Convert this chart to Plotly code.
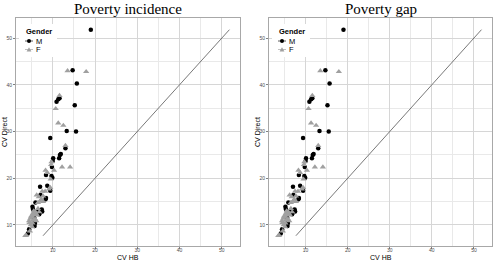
import plotly.graph_objects as go

# Data (CV HB vs CV Direct), same for both panels
m_x = [19.0, 14.7, 15.7, 11.6, 11.3, 10.9, 15.2, 13.3, 15.5, 9.4, 13.0, 11.9, 11.7, 11.5, 10.1,
       10.0, 9.8, 8.4, 9.7, 9.9, 8.7, 7.0, 9.4, 7.1, 8.4, 8.3, 5.9, 5.2, 5.3, 6.4, 7.2, 7.4,
       7.5, 6.8, 5.6, 5.8, 5.7, 4.4, 4.1]
m_y = [51.8, 43.1, 40.3, 37.1, 36.9, 36.4, 35.6, 30.1, 30.0, 28.6, 26.4, 25.2, 25.0, 24.3, 24.3,
       23.7, 22.4, 20.7, 20.5, 20.1, 18.4, 18.2, 17.3, 16.4, 15.8, 15.5, 14.8, 13.9, 13.4, 13.0,
       13.2, 13.3, 12.9, 12.3, 11.6, 10.4, 9.8, 9.1, 8.2]
f_x = [13.5, 17.9, 11.6, 10.7, 11.3, 12.5, 13.0, 9.7, 9.6, 12.2, 14.1, 10.3, 8.3, 8.7, 9.5, 9.4,
       9.1, 8.2, 7.5, 6.2, 7.7, 6.7, 7.3, 7.0, 6.5, 7.7, 5.5, 6.8, 5.3, 6.0, 6.3, 4.7, 4.9, 5.4,
       4.4, 6.1, 5.2, 5.1, 4.8, 4.6, 3.7, 3.5, 5.0, 5.6, 4.5, 5.8, 6.5, 5.9]
f_y = [43.0, 42.8, 37.7, 34.9, 31.8, 31.3, 27.0, 23.5, 22.9, 22.4, 22.4, 21.7, 21.7, 21.2, 19.8,
       18.0, 17.7, 17.2, 17.2, 16.4, 16.2, 16.0, 15.5, 15.1, 14.8, 15.0, 13.0, 12.8, 12.5, 12.5,
       12.1, 11.4, 11.8, 11.1, 10.9, 10.9, 10.4, 9.6, 10.0, 8.7, 7.8, 7.7, 12.0, 12.2, 10.5,
       11.3, 13.5, 12.8]
titles = ["Poverty incidence", "Poverty gap"]
x_label = "CV HB"
y_label = "CV Direct"
legend_title = "Gender"
groups = ["M", "F"]
tick_vals = [10, 20, 30, 40, 50]

lo = min(m_y + f_y)
hi = max(m_y + f_y)

W, H = 494, 260


def px(x):
    return x / W


def py(y):
    return 1 - y / H


fig = go.Figure()

doms = [(px(16), px(240)), (px(269), px(492))]
ydom = (py(246), py(18))

for i in range(2):
    xa = "x" if i == 0 else "x2"
    ya = "y" if i == 0 else "y2"
    fig.add_trace(go.Scatter(x=[lo, hi], y=[lo, hi], mode="lines",
                             line=dict(color="#555555", width=0.8),
                             xaxis=xa, yaxis=ya, showlegend=False, hoverinfo="skip"))
    fig.add_trace(go.Scatter(x=m_x, y=m_y, mode="markers", name="M",
                             marker=dict(symbol="circle", size=4.5, color="black"),
                             xaxis=xa, yaxis=ya, showlegend=False))
    fig.add_trace(go.Scatter(x=f_x, y=f_y, mode="markers", name="F",
                             marker=dict(symbol="triangle-up", size=5.5, color="#a0a0a0"),
                             xaxis=xa, yaxis=ya, showlegend=False))

axis_common = dict(
    showgrid=True, gridcolor="#d6d6d6", gridwidth=1,
    minor=dict(showgrid=True, gridcolor="#e9e9e9", gridwidth=0.8, dtick=5, ticks=""),
    tickvals=tick_vals, ticks="outside", ticklen=2, tickcolor="#808080",
    tickfont=dict(family="Liberation Sans", size=5, color="#4d4d4d"),
    showline=True, mirror=True, linecolor="#a8a8a8", linewidth=1,
    zeroline=False,
)
xextra = dict(ticklabelstandoff=-3)

fig.update_layout(
    width=W, height=H,
    margin=dict(l=0, r=0, t=0, b=0),
    paper_bgcolor="white", plot_bgcolor="white",
    showlegend=False,
    xaxis=dict(domain=doms[0], range=[1.3, 54.3], anchor="y", **axis_common, **xextra),
    yaxis=dict(domain=ydom, range=[5.5, 54.3], anchor="x", **axis_common),
    xaxis2=dict(domain=doms[1], range=[1.3, 54.3], anchor="y2", **axis_common, **xextra),
    yaxis2=dict(domain=ydom, range=[5.5, 54.3], anchor="x2", **axis_common),
)

for i, d in enumerate(doms):
    left = 16 if i == 0 else 269
    cx = (d[0] + d[1]) / 2
    fig.add_annotation(text=titles[i], x=cx, y=py(9), xref="paper", yref="paper",
                       showarrow=False, xanchor="center", yanchor="middle",
                       font=dict(family="Liberation Serif", size=15, color="black"))
    fig.add_annotation(text=x_label, x=cx, y=py(257.3), xref="paper", yref="paper",
                       showarrow=False, xanchor="center", yanchor="middle",
                       font=dict(family="Liberation Sans", size=7, color="black"))
    fig.add_annotation(text=y_label, x=px(left - 12), y=(ydom[0] + ydom[1]) / 2,
                       xref="paper", yref="paper", textangle=-90,
                       showarrow=False, xanchor="center", yanchor="middle",
                       font=dict(family="Liberation Sans", size=7, color="black"))
    # legend (drawn manually to match the compact key spacing)
    lx = left + 3
    fig.add_shape(type="rect", xref="paper", yref="paper",
                  x0=px(lx), x1=px(lx + 38), y0=py(57), y1=py(24),
                  fillcolor="white", line=dict(width=0), layer="above")
    fig.add_annotation(text="<b>" + legend_title + "</b>", x=px(lx + 5), y=py(31.5),
                       xref="paper", yref="paper", showarrow=False,
                       xanchor="left", yanchor="middle",
                       font=dict(family="Liberation Sans", size=7.5, color="black"))
    key_cols = ["#333333", "#b0b0b0"]
    for k, g in enumerate(groups):
        ky = 41 + 8.5 * k
        kx = lx + 10
        fig.add_shape(type="line", xref="paper", yref="paper",
                      x0=px(kx - 4), x1=px(kx + 4), y0=py(ky), y1=py(ky),
                      line=dict(color=key_cols[k], width=0.8), layer="above")
        if k == 0:
            fig.add_shape(type="circle", xref="paper", yref="paper",
                          x0=px(kx - 2), x1=px(kx + 2), y0=py(ky + 2), y1=py(ky - 2),
                          fillcolor="black", line=dict(width=0), layer="above")
        else:
            fig.add_shape(type="path", xref="paper", yref="paper",
                          path=(f"M {px(kx - 2.4)} {py(ky + 2)} L {px(kx + 2.4)} {py(ky + 2)} "
                                f"L {px(kx)} {py(ky - 2.2)} Z"),
                          fillcolor="#a0a0a0", line=dict(width=0), layer="above")
        fig.add_annotation(text=g, x=px(kx + 5), y=py(ky), xref="paper", yref="paper",
                           showarrow=False, xanchor="left", yanchor="middle",
                           font=dict(family="Liberation Sans", size=7.5, color="black"))

fig.write_html(
    "out.html",
    config={"displayModeBar": False},
    post_script="document.body.style.margin='0px';document.body.style.overflow='hidden';",
)
